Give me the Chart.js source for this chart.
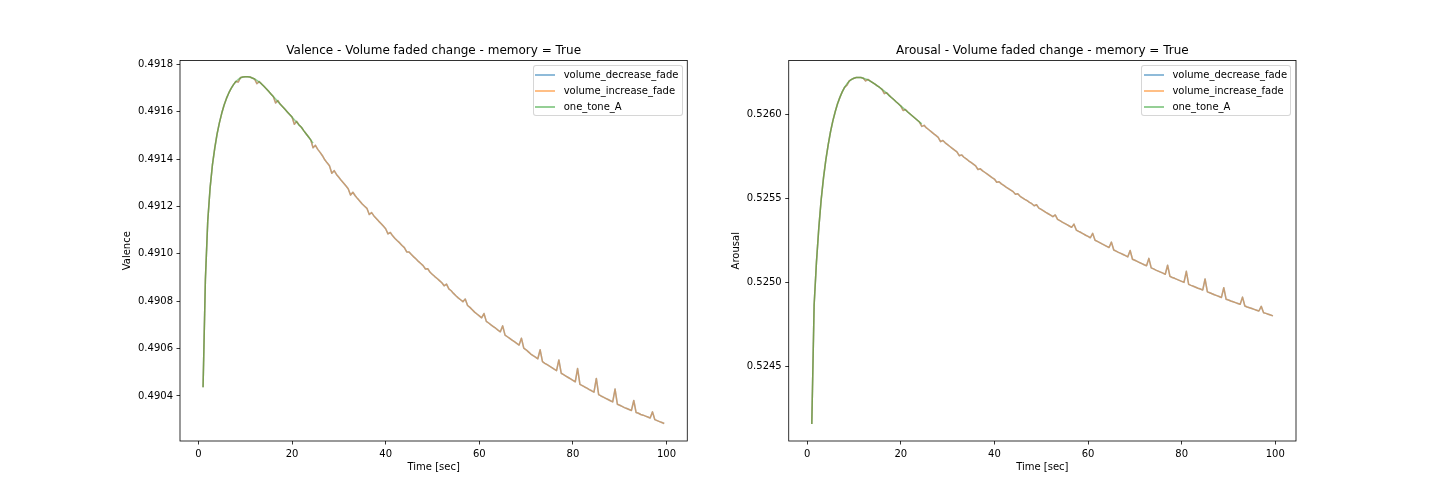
<!DOCTYPE html>
<html><head><meta charset="utf-8">
<script src="https://cdn.jsdelivr.net/npm/chart.js"></script>
<style>
html,body{margin:0;padding:0;background:#fff;width:1440px;height:504px;overflow:hidden;}
#wrap{position:relative;width:1440px;height:504px;}
canvas{position:absolute;top:0;}
.legend{position:absolute;top:65px;box-sizing:border-box;border:1px solid rgba(204,204,204,0.8);border-radius:3px;background:rgba(255,255,255,0.8);width:150px;height:51px;font-family:'DejaVu Sans';font-size:10px;color:#000;}
.legend .h{position:absolute;left:1.8px;width:20px;height:1.5px;}
.legend .t{position:absolute;left:30px;line-height:12px;white-space:nowrap;}
</style></head>
<body><div id="wrap">
<canvas id="c1" width="720" height="504" style="left:0"></canvas>
<canvas id="c2" width="720" height="504" style="left:720px"></canvas>
</div>
<script>
// ---- data ----
const time = [1,1.5,2,2.5,3,3.5,4,4.5,5,5.5,6,6.5,7,7.5,8,8.5,9,9.5,10,10.5,11,11.5,12,12.5,13,13.5,14,14.5,15,15.5,16,16.5,17,17.5,18,18.5,19,19.5,20,20.5,21,21.5,22,22.5,23,23.5,24,24.5,25,25.5,26,26.5,27,27.5,28,28.5,29,29.5,30,30.5,31,31.5,32,32.5,33,33.5,34,34.5,35,35.5,36,36.5,37,37.5,38,38.5,39,39.5,40,40.5,41,41.5,42,42.5,43,43.5,44,44.5,45,45.5,46,46.5,47,47.5,48,48.5,49,49.5,50,50.5,51,51.5,52,52.5,53,53.5,54,54.5,55,55.5,56,56.5,57,57.5,58,58.5,59,59.5,60,60.5,61,61.5,62,62.5,63,63.5,64,64.5,65,65.5,66,66.5,67,67.5,68,68.5,69,69.5,70,70.5,71,71.5,72,72.5,73,73.5,74,74.5,75,75.5,76,76.5,77,77.5,78,78.5,79,79.5,80,80.5,81,81.5,82,82.5,83,83.5,84,84.5,85,85.5,86,86.5,87,87.5,88,88.5,89,89.5,90,90.5,91,91.5,92,92.5,93,93.5,94,94.5,95,95.5,96,96.5,97,97.5,98,98.5,99,99.5];

const valenceDecreaseFade = [
0.490437,0.490893,0.491138,0.491277,0.491375,0.491446,0.491506,0.491554,0.491594,0.491628,
0.491656,0.491679,0.491698,0.491714,0.491727,0.491725,0.491744,0.491746,0.491747,0.491747,
0.491746,0.491742,0.491738,0.491718,0.491727,0.491717,0.491707,0.491697,0.491686,0.491675,
0.491664,0.491637,0.491647,0.491631,0.491621,0.49161,0.491599,0.491588,0.491577,0.491547,
0.491559,0.491544,0.491534,0.49152,0.491507,0.491494,0.491481,0.491448,0.491458,0.491441,
0.491428,0.491414,0.491397,0.491384,0.491372,0.49134,0.491351,0.491335,0.491323,0.49131,
0.491299,0.491287,0.491275,0.491248,0.49126,0.491245,0.491233,0.491222,0.49121,0.491201,
0.491192,0.491166,0.491174,0.49116,0.491149,0.491138,0.491128,0.491117,0.491106,0.491084,
0.49109,0.491076,0.491065,0.491055,0.491046,0.491035,0.491026,0.491008,0.491008,0.490997,
0.490987,0.490978,0.490968,0.490959,0.49095,0.490936,0.490937,0.490922,0.490913,0.490904,
0.490896,0.490887,0.490878,0.490865,0.490872,0.490852,0.490844,0.490833,0.490823,0.490814,
0.490806,0.490798,0.490809,0.490782,0.490774,0.490764,0.490754,0.490746,0.490738,0.49073,
0.490748,0.490715,0.490708,0.4907,0.490693,0.490686,0.490678,0.490671,0.490696,0.490657,
0.49065,0.490643,0.490636,0.490629,0.490622,0.490615,0.490644,0.490602,0.490595,0.490586,
0.490577,0.49057,0.490564,0.490557,0.490595,0.490545,0.490538,0.490532,0.490526,0.49052,
0.490513,0.490507,0.490552,0.490496,0.49049,0.490484,0.490478,0.490472,0.490466,0.49046,
0.490516,0.490449,0.490444,0.490438,0.490433,0.490427,0.490422,0.490416,0.490474,0.490406,
0.4904,0.490395,0.49039,0.490385,0.49038,0.490375,0.490429,0.490365,0.490361,0.490356,
0.490351,0.490347,0.490343,0.490339,0.490381,0.49033,0.490327,0.490322,0.490319,0.490315,
0.490311,0.490307,0.490333,0.4903,0.490296,0.490292,0.490288,0.490284];
// the increase-fade curve lies exactly on the decrease-fade curve in the picture
const valenceIncreaseFade = valenceDecreaseFade.slice();
const valenceOneTone = [
0.490437,0.490893,0.491138,0.491277,0.491375,0.491446,0.491506,0.491554,0.491594,0.491628,
0.491656,0.491679,0.491698,0.491714,0.491727,0.491736,0.491742,0.491746,0.491747,0.491747,
0.491746,0.491742,0.491738,0.491732,0.491725,0.491717,0.491707,0.491697,0.491686,0.491675,
0.491664,0.491653,0.491642,0.491631,0.491621,0.49161,0.491599,0.491588,0.491577,0.491566,
0.491555,0.491544,0.491534,0.49152,0.491507,0.491494,0.491481,0.491467];

const arousalDecreaseFade = [
0.524156,0.524866,0.525123,0.525326,0.525493,0.525624,0.525731,0.525821,0.525899,0.525964,
0.526018,0.526066,0.526104,0.526137,0.526164,0.526176,0.526202,0.526211,0.526218,0.526222,
0.526223,0.526222,0.526218,0.526202,0.526211,0.526201,0.526192,0.526183,0.526173,0.526163,
0.526152,0.526126,0.526132,0.526116,0.526103,0.526091,0.526078,0.526066,0.526053,0.526026,
0.526032,0.526017,0.526005,0.525993,0.525981,0.525969,0.525957,0.525931,0.525937,0.525922,
0.525911,0.5259,0.525888,0.525877,0.525866,0.52584,0.525847,0.525833,0.525822,0.525811,
0.5258,0.525789,0.525779,0.525756,0.525761,0.525747,0.525737,0.525726,0.525716,0.525706,
0.525696,0.525674,0.525678,0.525666,0.525656,0.525646,0.525636,0.525626,0.525617,0.525598,
0.525601,0.525588,0.525579,0.525569,0.52556,0.525551,0.525542,0.525526,0.525529,0.525514,
0.525505,0.525496,0.525488,0.525478,0.52547,0.525458,0.525464,0.525444,0.525436,0.525427,
0.525418,0.52541,0.525402,0.525393,0.525403,0.525377,0.525369,0.52536,0.525353,0.525345,
0.525337,0.525329,0.525348,0.525313,0.525305,0.525298,0.52529,0.525282,0.525275,0.525267,
0.525293,0.525252,0.525245,0.525238,0.52523,0.525223,0.525216,0.525209,0.525241,0.525194,
0.525187,0.52518,0.525174,0.525167,0.52516,0.525153,0.525191,0.525139,0.525133,0.525126,
0.525119,0.525113,0.525106,0.5251,0.525144,0.525087,0.525081,0.525074,0.525068,0.525062,
0.525056,0.525049,0.525103,0.525037,0.52503,0.525025,0.525019,0.525013,0.525007,0.525001,
0.525067,0.524989,0.524983,0.524978,0.524972,0.524966,0.524961,0.524955,0.525021,0.524944,
0.524939,0.524933,0.524927,0.524922,0.524917,0.524911,0.524969,0.5249,0.524896,0.52489,
0.524885,0.52488,0.524875,0.52487,0.524913,0.52486,0.524854,0.52485,0.524845,0.52484,
0.524835,0.52483,0.524858,0.52482,0.524816,0.524811,0.524806,0.524801];
const arousalIncreaseFade = arousalDecreaseFade.slice();
const arousalOneTone = [
0.524156,0.524866,0.525123,0.525326,0.525493,0.525624,0.525731,0.525821,0.525899,0.525964,
0.526018,0.526066,0.526104,0.526137,0.526164,0.526185,0.5262,0.526211,0.526218,0.526222,
0.526223,0.526222,0.526218,0.526214,0.526208,0.526201,0.526192,0.526183,0.526173,0.526163,
0.526152,0.526141,0.526129,0.526116,0.526103,0.526091,0.526078,0.526066,0.526053,0.526041,
0.526029,0.526017,0.526005,0.525993,0.525981,0.525969,0.525957,0.525946];

const seriesNames = ['volume_decrease_fade','volume_increase_fade','one_tone_A'];
const xTicks = [0,20,40,60,80,100];
const valenceTicks = [0.4904,0.4906,0.4908,0.4910,0.4912,0.4914,0.4916,0.4918];
const arousalTicks = [0.5245,0.5250,0.5255,0.5260];

// ---- styling ----
const FONT = 'DejaVu Sans';
const lineColors = ['rgba(31,119,180,0.5)','rgba(255,127,14,0.5)','rgba(44,160,44,0.5)'];

const framePlugin = {
  id: 'frame',
  afterDatasetsDraw(chart) {
    const {ctx, chartArea: a} = chart;
    ctx.save();
    ctx.strokeStyle = '#000';
    ctx.lineWidth = 0.8;
    ctx.strokeRect(a.left, a.top, a.right - a.left, a.bottom - a.top);
    ctx.restore();
  }
};

function pts(values) { return values.map((v, i) => ({x: time[i], y: v})); }

function makeChart(id, o) {
  const axisGrid = {display: true, drawOnChartArea: false, drawTicks: true, tickLength: 3.5, tickColor: '#000', tickWidth: 0.8};
  return new Chart(document.getElementById(id), {
    type: 'line',
    data: {
      datasets: [
        {label: seriesNames[0], data: pts(o.dec), borderColor: lineColors[0], order: 3},
        {label: seriesNames[1], data: pts(o.inc), borderColor: lineColors[1], order: 2},
        {label: seriesNames[2], data: pts(o.one), borderColor: lineColors[2], order: 1}
      ]
    },
    options: {
      responsive: false, maintainAspectRatio: false, animation: false, devicePixelRatio: 1,
      events: [],
      elements: {
        line: {borderWidth: 1.5, tension: 0, fill: false, borderJoinStyle: 'round', borderCapStyle: 'butt'},
        point: {radius: 0, hoverRadius: 0}
      },
      layout: {padding: {left: 0, right: o.padRight, top: 0, bottom: 0}},
      plugins: {
        legend: {display: false},
        tooltip: {enabled: false},
        title: {display: true, text: o.title, fullSize: false, color: '#000',
                font: {family: FONT, size: 12, weight: 'normal'}, padding: {top: 44, bottom: 2.08}}
      },
      scales: {
        x: {
          type: 'linear', position: 'bottom', min: -3.925, max: 104.425,
          afterBuildTicks: s => { s.ticks = xTicks.map(v => ({value: v})); },
          afterFit: s => { s.height = 63; },
          border: {display: false}, grid: axisGrid,
          ticks: {color: '#000', font: {family: FONT, size: 10}, padding: 3.5, maxRotation: 0, autoSkip: false,
                  callback: v => String(v)},
          title: {display: true, text: 'Time [sec]', color: '#000', font: {family: FONT, size: 10}, padding: {top: 0, bottom: 31}}
        },
        y: {
          type: 'linear', min: o.yMin, max: o.yMax,
          afterBuildTicks: s => { s.ticks = o.yTicks.map(v => ({value: v})); },
          afterFit: s => { s.width = o.yWidth; },
          border: {display: false}, grid: axisGrid,
          ticks: {color: '#000', font: {family: FONT, size: 10}, padding: 3.5, autoSkip: false,
                  callback: v => Number(v).toFixed(4)},
          title: {display: true, text: o.yLabel, color: '#000', font: {family: FONT, size: 10}, padding: {top: o.yTitlePad, bottom: 0}}
        }
      }
    },
    plugins: [framePlugin]
  });
}

makeChart('c1', {
  title: 'Valence - Volume faded change - memory = True', yLabel: 'Valence',
  dec: valenceDecreaseFade, inc: valenceIncreaseFade, one: valenceOneTone,
  yMin: 0.490210, yMax: 0.491816, yTicks: valenceTicks, yWidth: 180, yTitlePad: 121.7, padRight: 32.73
});
makeChart('c2', {
  title: 'Arousal - Volume faded change - memory = True', yLabel: 'Arousal',
  dec: arousalDecreaseFade, inc: arousalIncreaseFade, one: arousalOneTone,
  yMin: 0.524055, yMax: 0.526324, yTicks: arousalTicks, yWidth: 68.73, yTitlePad: 10, padRight: 144
});

// ---- legends (matplotlib style, inside upper right of each axes) ----
function makeLegend(left) {
  const box = document.createElement('div');
  box.className = 'legend';
  box.style.left = left + 'px';
  seriesNames.forEach((name, i) => {
    const c = 9 + 16 * i;
    const h = document.createElement('div');
    h.className = 'h'; h.style.top = (c - 0.75) + 'px'; h.style.background = lineColors[i];
    const t = document.createElement('div');
    t.className = 't'; t.style.top = (c - 6.2) + 'px'; t.textContent = name;
    box.appendChild(h); box.appendChild(t);
  });
  document.getElementById('wrap').appendChild(box);
}
makeLegend(532.7);
makeLegend(1141.4);
</script>
</body></html>
